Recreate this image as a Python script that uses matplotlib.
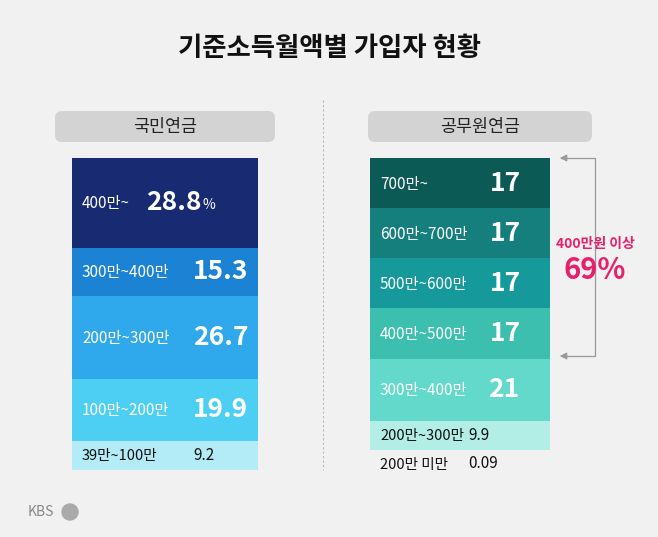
import matplotlib.pyplot as plt
from matplotlib.patches import FancyBboxPatch

plt.rcParams['font.family'] = ['Noto Sans CJK KR', 'DejaVu Sans']

nps_labels = ['400만~', '300만~400만', '200만~300만', '100만~200만', '39만~100만']
nps_values = [28.8, 15.3, 26.7, 19.9, 9.2]
nps_colors = ['#172a72', '#1b82d4', '#2fa9ec', '#4dcff4', '#b3ecf6']

gep_labels = ['700만~', '600만~700만', '500만~600만', '400만~500만', '300만~400만', '200만~300만', '200만 미만']
gep_values = [17, 17, 17, 17, 21, 9.9, 0.09]
gep_colors = ['#0b5a56', '#147f7c', '#15999a', '#3cbfae', '#62d9ca', '#b2ede6', 'none']

# value text x positions (layout only)
nps_vx = [146, 193, 193, 193, 193]
gep_vx = [490, 490, 490, 490, 488, 468, 468]

fig = plt.figure(figsize=(6.58, 5.37), dpi=100)
fig.patch.set_facecolor('#f1f1f1')
ax = fig.add_axes([0, 0, 1, 1])
ax.set_xlim(0, 658)
ax.set_ylim(537, 0)
ax.axis('off')

ax.text(329, 48, '기준소득월액별 가입자 현황', ha='center', va='center', fontsize=19, fontweight='bold', color='#111')

for x0, w, t in [(55, 220, '국민연금'), (368, 224, '공무원연금')]:
    ax.add_patch(FancyBboxPatch((x0, 111), w, 31, boxstyle='round,pad=0,rounding_size=7',
                                fc='#d3d3d3', ec='none'))
    ax.text(x0 + w / 2, 127, t, ha='center', va='center', fontsize=12.5, color='#222')

ax.plot([323, 323], [100, 470], ls=(0, (2, 2)), color='#bbbbbb', lw=0.8)

def stack(x0, w, labels, values, colors, vxs, scale, dark_idx, pct_first=False):
    y = 158
    for i, (lab, v, c, vx) in enumerate(zip(labels, values, colors, vxs)):
        h = v * scale
        if c == 'none':
            h = 28
        else:
            ax.bar(x0, h, width=w, bottom=y, align='edge', color=c, edgecolor='none')
        cy = y + h / 2
        tc = 'white' if i < dark_idx else '#111'
        small = h < 35
        ax.text(x0 + 10, cy + 1, lab, ha='left', va='center', fontsize=10.5 if small else 11, color=tc)
        t = ax.text(vx, cy, f'{v:g}', ha='left', va='center', fontsize=11 if small else 19,
                    fontweight='normal' if small else 'bold', color=tc)
        if pct_first and i == 0:
            ax.annotate('%', xy=(1, 0), xycoords=t, xytext=(1, 3), textcoords='offset points',
                        ha='left', va='bottom', fontsize=10, color=tc)
        y += h

stack(72, 186, nps_labels, nps_values, nps_colors, nps_vx, 3.12, 4, pct_first=True)
stack(370, 180, gep_labels, gep_values, gep_colors, gep_vx, 2.95, 5)

# bracket
ax.plot([562, 595, 595, 562], [158, 158, 356, 356], color='#999', lw=0.9)
ax.annotate('', xy=(557, 158), xytext=(566, 158), arrowprops=dict(arrowstyle='-|>', color='#999', lw=0.9))
ax.annotate('', xy=(557, 356), xytext=(566, 356), arrowprops=dict(arrowstyle='-|>', color='#999', lw=0.9))
ax.add_patch(plt.Rectangle((555, 232), 80, 55, fc='#f1f1f1', ec='none'))
ax.text(595, 244, '400만원 이상', ha='center', va='center', fontsize=10, fontweight='bold', color='#e8206a')
ax.text(595, 270, '69%', ha='center', va='center', fontsize=21, fontweight='bold', color='#e8206a')

ax.text(28, 512, 'KBS', ha='left', va='center', fontsize=10, color='#888')
ax.add_patch(plt.Circle((70, 512), 8, color='#aaa'))

fig.savefig('out.png', dpi=100, facecolor=fig.get_facecolor())
